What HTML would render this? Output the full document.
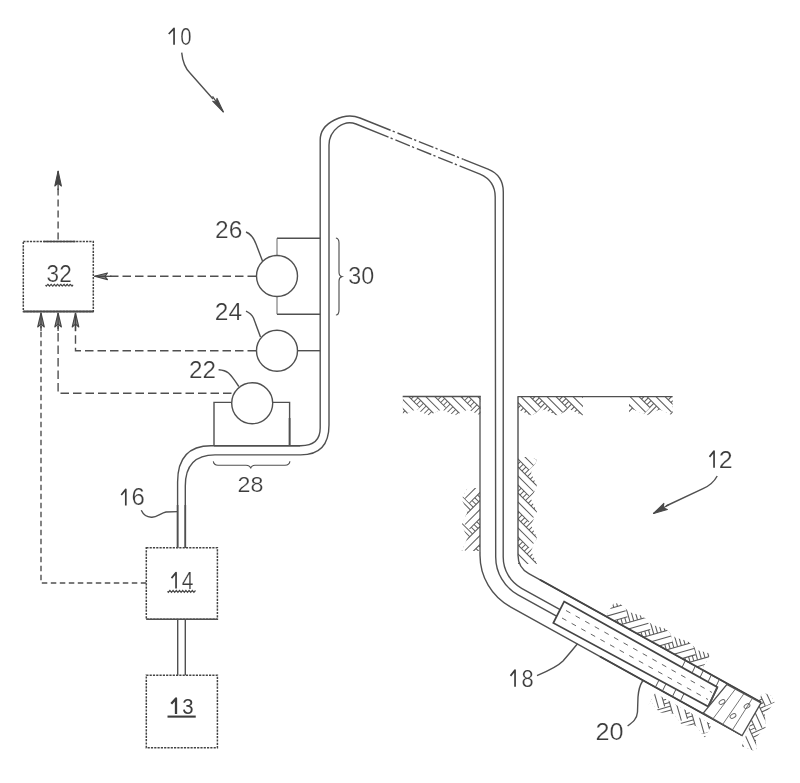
<!DOCTYPE html>
<html><head><meta charset="utf-8"><style>
html,body{margin:0;padding:0;background:#fff;}
svg{display:block;filter:grayscale(1);}
text{font-family:"Liberation Sans",sans-serif;}
</style></head><body>
<svg width="800" height="783" viewBox="0 0 800 783">
<rect width="800" height="783" fill="#fff"/>
<rect x="23.3" y="241.5" width="70" height="69.9" stroke="#444" stroke-width="1.5" fill="none" stroke-dasharray="2.2 1.1"/>
<line x1="23.3" y1="311.4" x2="93.3" y2="311.4" stroke="#4a4a4a" stroke-width="2.0"/>
<line x1="43.5" y1="241.5" x2="75.5" y2="241.5" stroke="#444" stroke-width="1.5"/>
<text transform="translate(46.6,281.76) scale(0.2257,0.2394)" font-size="100" fill="#3c3c3c" stroke="#fff" stroke-width="1.0" opacity="0.995">32</text>
<polyline points="45.5,285.2 46.31,286.1 47.12,285.17 47.93,284.3 48.74,285.26 49.54,286.1 50.35,285.11 51.16,284.31 51.97,285.32 52.78,286.09 53.59,285.04 54.4,284.32 55.21,285.39 56.01,286.08 56.82,284.98 57.63,284.33 58.44,285.45 59.25,286.06 60.06,284.92 60.87,284.35 61.68,285.51 62.49,286.04 63.29,284.87 64.1,284.37 64.91,285.56 65.72,286.02 66.53,284.81 67.34,284.4 68.15,285.62 68.96,285.99 69.76,284.75 70.57,284.43 71.38,285.67 72.19,285.96 73,284.7" fill="none" stroke="#444" stroke-width="1.2"/>
<line x1="58.1" y1="239.5" x2="58.1" y2="183" stroke="#505050" stroke-width="1.4" stroke-dasharray="7 4"/>
<path d="M58.1,171 L61.4,186 L58.1,183 L54.8,186 Z" fill="#444" stroke="#444" stroke-width="1.1" stroke-linejoin="round"/>
<line x1="58.1" y1="171" x2="58.1" y2="190" stroke="#444" stroke-width="1.3"/>
<line x1="256" y1="276.3" x2="106" y2="276.3" stroke="#505050" stroke-width="1.4" stroke-dasharray="8.5 4"/>
<path d="M94.5,276.3 L107.5,273 L104.9,276.3 L107.5,279.6 Z" fill="#8a8a8a" stroke="#444" stroke-width="1.1" stroke-linejoin="round"/>
<line x1="94.5" y1="276.3" x2="111.5" y2="276.3" stroke="#444" stroke-width="1.3"/>
<path d="M256,350.7 L75.5,350.7 L75.5,326" stroke="#505050" stroke-width="1.4" fill="none" stroke-dasharray="8.5 4"/>
<path d="M75.5,313 L78.8,327 L75.5,324.2 L72.2,327 Z" fill="#8a8a8a" stroke="#444" stroke-width="1.1" stroke-linejoin="round"/>
<line x1="75.5" y1="313" x2="75.5" y2="331" stroke="#444" stroke-width="1.3"/>
<path d="M231.5,393.2 L58.1,393.2 L58.1,326" stroke="#505050" stroke-width="1.4" fill="none" stroke-dasharray="8.5 4"/>
<path d="M58.1,313 L61.4,327 L58.1,324.2 L54.8,327 Z" fill="#8a8a8a" stroke="#444" stroke-width="1.1" stroke-linejoin="round"/>
<line x1="58.1" y1="313" x2="58.1" y2="331" stroke="#444" stroke-width="1.3"/>
<path d="M146.3,583 L41,583 L41,326" stroke="#505050" stroke-width="1.4" fill="none" stroke-dasharray="5.5 3.5"/>
<path d="M41,313 L44.3,327 L41,324.2 L37.7,327 Z" fill="#8a8a8a" stroke="#444" stroke-width="1.1" stroke-linejoin="round"/>
<line x1="41" y1="313" x2="41" y2="331" stroke="#444" stroke-width="1.3"/>
<rect x="146.3" y="547.7" width="71.1" height="71.5" stroke="#444" stroke-width="1.5" fill="none" stroke-dasharray="2.2 1.1"/>
<line x1="146.3" y1="619.2" x2="217.4" y2="619.2" stroke="#505050" stroke-width="1.6"/>
<path d="M171.5,578.1 L176.05,572.65 L176.05,588.5" fill="none" stroke="#3c3c3c" stroke-width="1.7" stroke-linejoin="round"/>
<text transform="translate(181.83,588.5) scale(0.2108,0.2321)" font-size="100" fill="#3c3c3c" stroke="#fff" stroke-width="1.0" opacity="0.995">4</text>
<polyline points="167.5,591.4 168.3,592.3 169.1,591.4 169.9,590.5 170.7,591.4 171.5,592.3 172.3,591.4 173.1,590.5 173.9,591.4 174.7,592.3 175.5,591.4 176.3,590.5 177.1,591.4 177.9,592.3 178.7,591.4 179.5,590.5 180.3,591.4 181.1,592.3 181.9,591.4 182.7,590.5 183.5,591.4 184.3,592.3 185.1,591.4 185.9,590.5 186.7,591.4 187.5,592.3 188.3,591.4 189.1,590.5 189.9,591.4 190.7,592.3 191.5,591.4 192.3,590.5 193.1,591.4 193.9,592.3 194.7,591.4 195.5,590.5" fill="none" stroke="#444" stroke-width="1.2"/>
<rect x="146.3" y="675.2" width="71.1" height="72.5" stroke="#444" stroke-width="1.5" fill="none" stroke-dasharray="2.2 1.1"/>
<path d="M171.25,703.76 L176,698.4 L176,714" fill="none" stroke="#3c3c3c" stroke-width="2.3" stroke-linejoin="round"/>
<text transform="translate(182.19,713.77) scale(0.2031,0.2254)" font-size="100" fill="#3c3c3c" opacity="0.995">3</text>
<line x1="167.5" y1="716.6" x2="195.75" y2="716.6" stroke="#3c3c3c" stroke-width="2.1"/>
<line x1="177.7" y1="619" x2="177.7" y2="675.2" stroke="#505050" stroke-width="1.4"/>
<line x1="185.3" y1="619" x2="185.3" y2="675.2" stroke="#505050" stroke-width="1.4"/>
<path d="M177.6,548 L177.6,482 Q177.6,445.7 211,445.7 L300.7,445.7 Q320.2,445.7 320.2,428 L320.2,140 C320.2,122 345,112 360,118 L390.6,130.24" stroke="#505050" stroke-width="1.4" fill="none"/>
<path d="M463.5,159.4 L488,169.2 Q503.3,175.3 503.3,192 L503.2,557.0 A35.8,35.8 0 0 0 521.64,588.31 L566,612.9" stroke="#505050" stroke-width="1.4" fill="none"/>
<path d="M185.3,548 L185.3,486 Q185.3,454.9 215,454.9 L300.7,454.9 Q329,454.9 329,425 L329,145 C329.2,130 344,119.1 356,124 L388.5,137.16" stroke="#505050" stroke-width="1.4" fill="none"/>
<path d="M462,166.9 L480,174.2 Q495.2,180.8 495.2,197 L495.7,557.0 A43.3,43.3 0 0 0 518.01,594.87 L557,616.48" stroke="#505050" stroke-width="1.4" fill="none"/>
<path d="M392.7,131.08 L394.8,131.92 M397.5,133 L412,138.8 M414.1,139.64 L416.2,140.48 M418.9,141.56 L433.4,147.36 M435.5,148.2 L437.6,149.04 M440.3,150.12 L454.8,155.92 M456.9,156.76 L459,157.6 M461.7,158.68 L463.5,159.4" stroke="#505050" stroke-width="1.4" fill="none"/>
<path d="M390.6,138.01 L392.7,138.86 M395.4,139.95 L409.9,145.83 M412,146.68 L414.1,147.53 M416.8,148.62 L431.3,154.49 M433.4,155.34 L435.5,156.2 M438.2,157.29 L452.7,163.16 M454.8,164.01 L456.9,164.86 M459.6,165.96 L462,166.93" stroke="#505050" stroke-width="1.4" fill="none"/>
<line x1="177.6" y1="505" x2="177.6" y2="548" stroke="#505050" stroke-width="1.7"/>
<line x1="185.3" y1="505" x2="185.3" y2="548" stroke="#505050" stroke-width="1.7"/>
<path d="M277,238.3 L320.2,238.3 M320.2,314.2 L277,314.2" stroke="#505050" stroke-width="1.4" fill="none"/>
<path d="M277,255.5 L277,238.3 M277,314.2 L277,296.5" stroke="#666" stroke-width="1.0" fill="none"/>
<circle cx="277" cy="276" r="20.5" stroke="#505050" stroke-width="1.4" fill="#fff"/>
<line x1="298" y1="350.7" x2="320.2" y2="350.7" stroke="#505050" stroke-width="1.4"/>
<circle cx="277" cy="350.7" r="20.5" stroke="#505050" stroke-width="1.4" fill="#fff"/>
<path d="M214,445.7 L214,402.4 L232,402.4 M272.5,402.4 L289.6,402.4 L289.6,445.7" stroke="#505050" stroke-width="1.4" fill="none"/>
<line x1="289.6" y1="418" x2="289.6" y2="445.7" stroke="#505050" stroke-width="1.8"/>
<circle cx="252.2" cy="403.2" r="20.5" stroke="#505050" stroke-width="1.4" fill="#fff"/>
<line x1="214" y1="445.7" x2="300" y2="445.7" stroke="#505050" stroke-width="1.6"/>
<path d="M335.9,238 Q339,238.5 339,243 L339,272 Q339,276 341.8,276.6 Q339,277.5 339,281 L339,310 Q339,315 335.9,315" stroke="#505050" stroke-width="1.15" fill="none"/>
<path d="M213.3,461.3 Q214,465.2 218,465.2 L246,465.2 Q250,465.2 250.7,468.4 Q251.5,465.2 255,465.2 L285,465.2 Q289.5,465.2 289.9,461.3" stroke="#505050" stroke-width="1.15" fill="none"/>
<path d="M168.75,34.03 L174.05,28.4 L174.05,44.75" fill="none" stroke="#3c3c3c" stroke-width="1.7" stroke-linejoin="round"/>
<text transform="translate(180.19,44.51) scale(0.2031,0.2359)" font-size="100" fill="#3c3c3c" stroke="#fff" stroke-width="1.0" opacity="0.995">0</text>
<text transform="translate(215.02,238.26) scale(0.2451,0.2394)" font-size="100" fill="#3c3c3c" stroke="#fff" stroke-width="1.0" opacity="0.995">26</text>
<text transform="translate(214.77,320.25) scale(0.2452,0.2464)" font-size="100" fill="#3c3c3c" stroke="#fff" stroke-width="1.0" opacity="0.995">24</text>
<text transform="translate(189.04,377.75) scale(0.2426,0.2464)" font-size="100" fill="#3c3c3c" stroke="#fff" stroke-width="1.0" opacity="0.995">22</text>
<text transform="translate(237.59,491.77) scale(0.2328,0.2254)" font-size="100" fill="#3c3c3c" stroke="#fff" stroke-width="1.0" opacity="0.995">28</text>
<text transform="translate(348.32,284.26) scale(0.2332,0.2430)" font-size="100" fill="#3c3c3c" stroke="#fff" stroke-width="1.0" opacity="0.995">30</text>
<path d="M121.25,494.94 L125.8,489.4 L125.8,505.5" fill="none" stroke="#3c3c3c" stroke-width="1.7" stroke-linejoin="round"/>
<text transform="translate(131.55,505.27) scale(0.2394,0.2324)" font-size="100" fill="#3c3c3c" stroke="#fff" stroke-width="1.0" opacity="0.995">6</text>
<path d="M709.5,456.87 L714.05,451.15 L714.05,467.75" fill="none" stroke="#3c3c3c" stroke-width="1.7" stroke-linejoin="round"/>
<text transform="translate(718.75,467.75) scale(0.2500,0.2429)" font-size="100" fill="#3c3c3c" stroke="#fff" stroke-width="1.0" opacity="0.995">2</text>
<path d="M510.5,675.87 L515.05,670.15 L515.05,686.75" fill="none" stroke="#3c3c3c" stroke-width="1.7" stroke-linejoin="round"/>
<text transform="translate(521.62,686.51) scale(0.2188,0.2394)" font-size="100" fill="#3c3c3c" stroke="#fff" stroke-width="1.0" opacity="0.995">8</text>
<text transform="translate(595.49,740.01) scale(0.2524,0.2430)" font-size="100" fill="#3c3c3c" stroke="#fff" stroke-width="1.0" opacity="0.995">20</text>
<path d="M246,232 C251,234 254,238.5 256,244 L262.5,261" stroke="#505050" stroke-width="1.4" fill="none"/>
<path d="M246,311.2 C250,313 252,315 253.5,318 L260.5,337" stroke="#505050" stroke-width="1.4" fill="none"/>
<path d="M218.6,369.7 C223,370 226,371 228.5,373 Q232,376 238.8,386.5" stroke="#505050" stroke-width="1.4" fill="none"/>
<path d="M141.25,510.3 C143,514 147,517.5 152,517.2 C157,517 161,513 166,512 L177.6,511.6" stroke="#505050" stroke-width="1.4" fill="none"/>
<path d="M181.7,52.6 Q183,66 190,73 L213,99" stroke="#505050" stroke-width="1.4" fill="none"/>
<path d="M223.4,112 L212.67,101.2 L216.52,102.17 L216.93,98.22 Z" fill="#4a4a4a" stroke="#4a4a4a" stroke-width="1.1" stroke-linejoin="round"/>
<line x1="223.4" y1="112" x2="212.5" y2="96.43" stroke="#4a4a4a" stroke-width="1.3"/>
<path d="M717.2,476 C714,482 709,486 703,488.7 L666,506" stroke="#505050" stroke-width="1.4" fill="none"/>
<path d="M653.5,513.5 L663.85,503.45 L663.19,507.88 L667.37,509.5 Z" fill="#4a4a4a" stroke="#4a4a4a" stroke-width="1.1" stroke-linejoin="round"/>
<line x1="653.5" y1="513.5" x2="669.07" y2="504.47" stroke="#4a4a4a" stroke-width="1.3"/>
<path d="M537,675.6 C548,671 557,667 563,661 Q570,653 577.5,643.8" stroke="#505050" stroke-width="1.4" fill="none"/>
<path d="M627.6,726 C633,722 637,719 637.5,712 L638,697 C638.5,690 640,685 642.6,681" stroke="#505050" stroke-width="1.4" fill="none"/>
<clipPath id="hc1"><polygon points="0,0 78,0 78,19 65,13 52,19 39,13 26,19 13,13 0,19"/></clipPath>
<g transform="matrix(1.0000,0.0000,0.0000,1.0000,402.7,396.5)"><g clip-path="url(#hc1)">
<line x1="-16.5" y1="0" x2="-35.5" y2="19" stroke="#5a5a5a" stroke-width="1.05"/>
<line x1="-11" y1="0" x2="-30" y2="19" stroke="#5a5a5a" stroke-width="1.05"/>
<line x1="-5.5" y1="0" x2="-24.5" y2="19" stroke="#5a5a5a" stroke-width="1.05"/>
<line x1="0" y1="0" x2="-19" y2="19" stroke="#5a5a5a" stroke-width="1.05"/>
<line x1="5.5" y1="0" x2="-13.5" y2="19" stroke="#5a5a5a" stroke-width="1.05"/>
<line x1="11" y1="0" x2="-8" y2="19" stroke="#5a5a5a" stroke-width="1.05"/>
<line x1="16.5" y1="0" x2="-2.5" y2="19" stroke="#5a5a5a" stroke-width="1.05"/>
<line x1="22" y1="0" x2="3" y2="19" stroke="#5a5a5a" stroke-width="1.05"/>
<line x1="27.5" y1="0" x2="8.5" y2="19" stroke="#5a5a5a" stroke-width="1.05"/>
<line x1="33" y1="0" x2="14" y2="19" stroke="#5a5a5a" stroke-width="1.05"/>
<line x1="38.5" y1="0" x2="19.5" y2="19" stroke="#5a5a5a" stroke-width="1.05"/>
<line x1="44" y1="0" x2="25" y2="19" stroke="#5a5a5a" stroke-width="1.05"/>
<line x1="49.5" y1="0" x2="30.5" y2="19" stroke="#5a5a5a" stroke-width="1.05"/>
<line x1="55" y1="0" x2="36" y2="19" stroke="#5a5a5a" stroke-width="1.05"/>
<line x1="60.5" y1="0" x2="41.5" y2="19" stroke="#5a5a5a" stroke-width="1.05"/>
<line x1="66" y1="0" x2="47" y2="19" stroke="#5a5a5a" stroke-width="1.05"/>
<line x1="71.5" y1="0" x2="52.5" y2="19" stroke="#5a5a5a" stroke-width="1.05"/>
<line x1="77" y1="0" x2="58" y2="19" stroke="#5a5a5a" stroke-width="1.05"/>
<line x1="82.5" y1="0" x2="63.5" y2="19" stroke="#5a5a5a" stroke-width="1.05"/>
<line x1="88" y1="0" x2="69" y2="19" stroke="#5a5a5a" stroke-width="1.05"/>
<line x1="93.5" y1="0" x2="74.5" y2="19" stroke="#5a5a5a" stroke-width="1.05"/>
<path d="M-18,20 L-9,11 L-37.28,-17.28 L-46.28,-8.28 Z" fill="#fff" stroke="none"/>
<line x1="-18" y1="20" x2="-46.28" y2="-8.28" stroke="#5a5a5a" stroke-width="1.05"/>
<line x1="-13.5" y1="15.5" x2="-41.78" y2="-12.78" stroke="#5a5a5a" stroke-width="1.05"/>
<line x1="-9" y1="11" x2="-37.28" y2="-17.28" stroke="#5a5a5a" stroke-width="1.05"/>
<path d="M8,20 L17,11 L-11.28,-17.28 L-20.28,-8.28 Z" fill="#fff" stroke="none"/>
<line x1="8" y1="20" x2="-20.28" y2="-8.28" stroke="#5a5a5a" stroke-width="1.05"/>
<line x1="12.5" y1="15.5" x2="-15.78" y2="-12.78" stroke="#5a5a5a" stroke-width="1.05"/>
<line x1="17" y1="11" x2="-11.28" y2="-17.28" stroke="#5a5a5a" stroke-width="1.05"/>
<path d="M34,20 L43,11 L14.72,-17.28 L5.72,-8.28 Z" fill="#fff" stroke="none"/>
<line x1="34" y1="20" x2="5.72" y2="-8.28" stroke="#5a5a5a" stroke-width="1.05"/>
<line x1="38.5" y1="15.5" x2="10.22" y2="-12.78" stroke="#5a5a5a" stroke-width="1.05"/>
<line x1="43" y1="11" x2="14.72" y2="-17.28" stroke="#5a5a5a" stroke-width="1.05"/>
<path d="M60,20 L69,11 L40.72,-17.28 L31.72,-8.28 Z" fill="#fff" stroke="none"/>
<line x1="60" y1="20" x2="31.72" y2="-8.28" stroke="#5a5a5a" stroke-width="1.05"/>
<line x1="64.5" y1="15.5" x2="36.22" y2="-12.78" stroke="#5a5a5a" stroke-width="1.05"/>
<line x1="69" y1="11" x2="40.72" y2="-17.28" stroke="#5a5a5a" stroke-width="1.05"/>
<path d="M86,20 L95,11 L66.72,-17.28 L57.72,-8.28 Z" fill="#fff" stroke="none"/>
<line x1="86" y1="20" x2="57.72" y2="-8.28" stroke="#5a5a5a" stroke-width="1.05"/>
<line x1="90.5" y1="15.5" x2="62.22" y2="-12.78" stroke="#5a5a5a" stroke-width="1.05"/>
<line x1="95" y1="11" x2="66.72" y2="-17.28" stroke="#5a5a5a" stroke-width="1.05"/>
</g></g>
<clipPath id="hc2"><polygon points="0,0 65,0 65,19 52,13 39,19 26,13 13,19 0,13"/></clipPath>
<g transform="matrix(1.0000,0.0000,0.0000,1.0000,518,396.6)"><g clip-path="url(#hc2)">
<line x1="-16" y1="0" x2="-35" y2="19" stroke="#5a5a5a" stroke-width="1.05"/>
<line x1="-10.5" y1="0" x2="-29.5" y2="19" stroke="#5a5a5a" stroke-width="1.05"/>
<line x1="-5" y1="0" x2="-24" y2="19" stroke="#5a5a5a" stroke-width="1.05"/>
<line x1="0.5" y1="0" x2="-18.5" y2="19" stroke="#5a5a5a" stroke-width="1.05"/>
<line x1="6" y1="0" x2="-13" y2="19" stroke="#5a5a5a" stroke-width="1.05"/>
<line x1="11.5" y1="0" x2="-7.5" y2="19" stroke="#5a5a5a" stroke-width="1.05"/>
<line x1="17" y1="0" x2="-2" y2="19" stroke="#5a5a5a" stroke-width="1.05"/>
<line x1="22.5" y1="0" x2="3.5" y2="19" stroke="#5a5a5a" stroke-width="1.05"/>
<line x1="28" y1="0" x2="9" y2="19" stroke="#5a5a5a" stroke-width="1.05"/>
<line x1="33.5" y1="0" x2="14.5" y2="19" stroke="#5a5a5a" stroke-width="1.05"/>
<line x1="39" y1="0" x2="20" y2="19" stroke="#5a5a5a" stroke-width="1.05"/>
<line x1="44.5" y1="0" x2="25.5" y2="19" stroke="#5a5a5a" stroke-width="1.05"/>
<line x1="50" y1="0" x2="31" y2="19" stroke="#5a5a5a" stroke-width="1.05"/>
<line x1="55.5" y1="0" x2="36.5" y2="19" stroke="#5a5a5a" stroke-width="1.05"/>
<line x1="61" y1="0" x2="42" y2="19" stroke="#5a5a5a" stroke-width="1.05"/>
<line x1="66.5" y1="0" x2="47.5" y2="19" stroke="#5a5a5a" stroke-width="1.05"/>
<line x1="72" y1="0" x2="53" y2="19" stroke="#5a5a5a" stroke-width="1.05"/>
<line x1="77.5" y1="0" x2="58.5" y2="19" stroke="#5a5a5a" stroke-width="1.05"/>
<line x1="83" y1="0" x2="64" y2="19" stroke="#5a5a5a" stroke-width="1.05"/>
<path d="M-12,20 L-3,11 L-31.28,-17.28 L-40.28,-8.28 Z" fill="#fff" stroke="none"/>
<line x1="-12" y1="20" x2="-40.28" y2="-8.28" stroke="#5a5a5a" stroke-width="1.05"/>
<line x1="-7.5" y1="15.5" x2="-35.78" y2="-12.78" stroke="#5a5a5a" stroke-width="1.05"/>
<line x1="-3" y1="11" x2="-31.28" y2="-17.28" stroke="#5a5a5a" stroke-width="1.05"/>
<path d="M14,20 L23,11 L-5.28,-17.28 L-14.28,-8.28 Z" fill="#fff" stroke="none"/>
<line x1="14" y1="20" x2="-14.28" y2="-8.28" stroke="#5a5a5a" stroke-width="1.05"/>
<line x1="18.5" y1="15.5" x2="-9.78" y2="-12.78" stroke="#5a5a5a" stroke-width="1.05"/>
<line x1="23" y1="11" x2="-5.28" y2="-17.28" stroke="#5a5a5a" stroke-width="1.05"/>
<path d="M40,20 L49,11 L20.72,-17.28 L11.72,-8.28 Z" fill="#fff" stroke="none"/>
<line x1="40" y1="20" x2="11.72" y2="-8.28" stroke="#5a5a5a" stroke-width="1.05"/>
<line x1="44.5" y1="15.5" x2="16.22" y2="-12.78" stroke="#5a5a5a" stroke-width="1.05"/>
<line x1="49" y1="11" x2="20.72" y2="-17.28" stroke="#5a5a5a" stroke-width="1.05"/>
<path d="M66,20 L75,11 L46.72,-17.28 L37.72,-8.28 Z" fill="#fff" stroke="none"/>
<line x1="66" y1="20" x2="37.72" y2="-8.28" stroke="#5a5a5a" stroke-width="1.05"/>
<line x1="70.5" y1="15.5" x2="42.22" y2="-12.78" stroke="#5a5a5a" stroke-width="1.05"/>
<line x1="75" y1="11" x2="46.72" y2="-17.28" stroke="#5a5a5a" stroke-width="1.05"/>
</g></g>
<clipPath id="hc3"><polygon points="0,0 43.6,0 43.6,19 30.6,13 17.6,19 4.6,13 0,19"/></clipPath>
<g transform="matrix(1.0000,0.0000,0.0000,1.0000,629,396.6)"><g clip-path="url(#hc3)">
<line x1="-18" y1="0" x2="-37" y2="19" stroke="#5a5a5a" stroke-width="1.05"/>
<line x1="-12.5" y1="0" x2="-31.5" y2="19" stroke="#5a5a5a" stroke-width="1.05"/>
<line x1="-7" y1="0" x2="-26" y2="19" stroke="#5a5a5a" stroke-width="1.05"/>
<line x1="-1.5" y1="0" x2="-20.5" y2="19" stroke="#5a5a5a" stroke-width="1.05"/>
<line x1="4" y1="0" x2="-15" y2="19" stroke="#5a5a5a" stroke-width="1.05"/>
<line x1="9.5" y1="0" x2="-9.5" y2="19" stroke="#5a5a5a" stroke-width="1.05"/>
<line x1="15" y1="0" x2="-4" y2="19" stroke="#5a5a5a" stroke-width="1.05"/>
<line x1="20.5" y1="0" x2="1.5" y2="19" stroke="#5a5a5a" stroke-width="1.05"/>
<line x1="26" y1="0" x2="7" y2="19" stroke="#5a5a5a" stroke-width="1.05"/>
<line x1="31.5" y1="0" x2="12.5" y2="19" stroke="#5a5a5a" stroke-width="1.05"/>
<line x1="37" y1="0" x2="18" y2="19" stroke="#5a5a5a" stroke-width="1.05"/>
<line x1="42.5" y1="0" x2="23.5" y2="19" stroke="#5a5a5a" stroke-width="1.05"/>
<line x1="48" y1="0" x2="29" y2="19" stroke="#5a5a5a" stroke-width="1.05"/>
<line x1="53.5" y1="0" x2="34.5" y2="19" stroke="#5a5a5a" stroke-width="1.05"/>
<line x1="59" y1="0" x2="40" y2="19" stroke="#5a5a5a" stroke-width="1.05"/>
<path d="M-14,20 L-5,11 L-33.28,-17.28 L-42.28,-8.28 Z" fill="#fff" stroke="none"/>
<line x1="-14" y1="20" x2="-42.28" y2="-8.28" stroke="#5a5a5a" stroke-width="1.05"/>
<line x1="-9.5" y1="15.5" x2="-37.78" y2="-12.78" stroke="#5a5a5a" stroke-width="1.05"/>
<line x1="-5" y1="11" x2="-33.28" y2="-17.28" stroke="#5a5a5a" stroke-width="1.05"/>
<path d="M12,20 L21,11 L-7.28,-17.28 L-16.28,-8.28 Z" fill="#fff" stroke="none"/>
<line x1="12" y1="20" x2="-16.28" y2="-8.28" stroke="#5a5a5a" stroke-width="1.05"/>
<line x1="16.5" y1="15.5" x2="-11.78" y2="-12.78" stroke="#5a5a5a" stroke-width="1.05"/>
<line x1="21" y1="11" x2="-7.28" y2="-17.28" stroke="#5a5a5a" stroke-width="1.05"/>
<path d="M38,20 L47,11 L18.72,-17.28 L9.72,-8.28 Z" fill="#fff" stroke="none"/>
<line x1="38" y1="20" x2="9.72" y2="-8.28" stroke="#5a5a5a" stroke-width="1.05"/>
<line x1="42.5" y1="15.5" x2="14.22" y2="-12.78" stroke="#5a5a5a" stroke-width="1.05"/>
<line x1="47" y1="11" x2="18.72" y2="-17.28" stroke="#5a5a5a" stroke-width="1.05"/>
<path d="M64,20 L73,11 L44.72,-17.28 L35.72,-8.28 Z" fill="#fff" stroke="none"/>
<line x1="64" y1="20" x2="35.72" y2="-8.28" stroke="#5a5a5a" stroke-width="1.05"/>
<line x1="68.5" y1="15.5" x2="40.22" y2="-12.78" stroke="#5a5a5a" stroke-width="1.05"/>
<line x1="73" y1="11" x2="44.72" y2="-17.28" stroke="#5a5a5a" stroke-width="1.05"/>
</g></g>
<clipPath id="hc4"><polygon points="0,0 63,0 63,18.5 50,12.5 37,18.5 24,12.5 11,18.5 0,12.5"/></clipPath>
<g transform="matrix(0.0000,1.0000,-1.0000,0.0000,480,488)"><g clip-path="url(#hc4)">
<line x1="-18" y1="0" x2="-36.5" y2="18.5" stroke="#5a5a5a" stroke-width="1.05"/>
<line x1="-12.5" y1="0" x2="-31" y2="18.5" stroke="#5a5a5a" stroke-width="1.05"/>
<line x1="-7" y1="0" x2="-25.5" y2="18.5" stroke="#5a5a5a" stroke-width="1.05"/>
<line x1="-1.5" y1="0" x2="-20" y2="18.5" stroke="#5a5a5a" stroke-width="1.05"/>
<line x1="4" y1="0" x2="-14.5" y2="18.5" stroke="#5a5a5a" stroke-width="1.05"/>
<line x1="9.5" y1="0" x2="-9" y2="18.5" stroke="#5a5a5a" stroke-width="1.05"/>
<line x1="15" y1="0" x2="-3.5" y2="18.5" stroke="#5a5a5a" stroke-width="1.05"/>
<line x1="20.5" y1="0" x2="2" y2="18.5" stroke="#5a5a5a" stroke-width="1.05"/>
<line x1="26" y1="0" x2="7.5" y2="18.5" stroke="#5a5a5a" stroke-width="1.05"/>
<line x1="31.5" y1="0" x2="13" y2="18.5" stroke="#5a5a5a" stroke-width="1.05"/>
<line x1="37" y1="0" x2="18.5" y2="18.5" stroke="#5a5a5a" stroke-width="1.05"/>
<line x1="42.5" y1="0" x2="24" y2="18.5" stroke="#5a5a5a" stroke-width="1.05"/>
<line x1="48" y1="0" x2="29.5" y2="18.5" stroke="#5a5a5a" stroke-width="1.05"/>
<line x1="53.5" y1="0" x2="35" y2="18.5" stroke="#5a5a5a" stroke-width="1.05"/>
<line x1="59" y1="0" x2="40.5" y2="18.5" stroke="#5a5a5a" stroke-width="1.05"/>
<line x1="64.5" y1="0" x2="46" y2="18.5" stroke="#5a5a5a" stroke-width="1.05"/>
<line x1="70" y1="0" x2="51.5" y2="18.5" stroke="#5a5a5a" stroke-width="1.05"/>
<line x1="75.5" y1="0" x2="57" y2="18.5" stroke="#5a5a5a" stroke-width="1.05"/>
<line x1="81" y1="0" x2="62.5" y2="18.5" stroke="#5a5a5a" stroke-width="1.05"/>
<path d="M-20,19.5 L-11,10.5 L-39.28,-17.78 L-48.28,-8.78 Z" fill="#fff" stroke="none"/>
<line x1="-20" y1="19.5" x2="-48.28" y2="-8.78" stroke="#5a5a5a" stroke-width="1.05"/>
<line x1="-15.5" y1="15" x2="-43.78" y2="-13.28" stroke="#5a5a5a" stroke-width="1.05"/>
<line x1="-11" y1="10.5" x2="-39.28" y2="-17.78" stroke="#5a5a5a" stroke-width="1.05"/>
<path d="M6,19.5 L15,10.5 L-13.28,-17.78 L-22.28,-8.78 Z" fill="#fff" stroke="none"/>
<line x1="6" y1="19.5" x2="-22.28" y2="-8.78" stroke="#5a5a5a" stroke-width="1.05"/>
<line x1="10.5" y1="15" x2="-17.78" y2="-13.28" stroke="#5a5a5a" stroke-width="1.05"/>
<line x1="15" y1="10.5" x2="-13.28" y2="-17.78" stroke="#5a5a5a" stroke-width="1.05"/>
<path d="M32,19.5 L41,10.5 L12.72,-17.78 L3.72,-8.78 Z" fill="#fff" stroke="none"/>
<line x1="32" y1="19.5" x2="3.72" y2="-8.78" stroke="#5a5a5a" stroke-width="1.05"/>
<line x1="36.5" y1="15" x2="8.22" y2="-13.28" stroke="#5a5a5a" stroke-width="1.05"/>
<line x1="41" y1="10.5" x2="12.72" y2="-17.78" stroke="#5a5a5a" stroke-width="1.05"/>
<path d="M58,19.5 L67,10.5 L38.72,-17.78 L29.72,-8.78 Z" fill="#fff" stroke="none"/>
<line x1="58" y1="19.5" x2="29.72" y2="-8.78" stroke="#5a5a5a" stroke-width="1.05"/>
<line x1="62.5" y1="15" x2="34.22" y2="-13.28" stroke="#5a5a5a" stroke-width="1.05"/>
<line x1="67" y1="10.5" x2="38.72" y2="-17.78" stroke="#5a5a5a" stroke-width="1.05"/>
<path d="M84,19.5 L93,10.5 L64.72,-17.78 L55.72,-8.78 Z" fill="#fff" stroke="none"/>
<line x1="84" y1="19.5" x2="55.72" y2="-8.78" stroke="#5a5a5a" stroke-width="1.05"/>
<line x1="88.5" y1="15" x2="60.22" y2="-13.28" stroke="#5a5a5a" stroke-width="1.05"/>
<line x1="93" y1="10.5" x2="64.72" y2="-17.78" stroke="#5a5a5a" stroke-width="1.05"/>
</g></g>
<clipPath id="hc5"><polygon points="0,0 107,0 107,19 94,13 81,19 68,13 55,19 42,13 29,19 16,13 3,19 0,13"/></clipPath>
<g transform="matrix(0.0000,1.0000,1.0000,0.0000,518,457)"><g clip-path="url(#hc5)">
<line x1="-15" y1="0" x2="-34" y2="19" stroke="#5a5a5a" stroke-width="1.05"/>
<line x1="-9.5" y1="0" x2="-28.5" y2="19" stroke="#5a5a5a" stroke-width="1.05"/>
<line x1="-4" y1="0" x2="-23" y2="19" stroke="#5a5a5a" stroke-width="1.05"/>
<line x1="1.5" y1="0" x2="-17.5" y2="19" stroke="#5a5a5a" stroke-width="1.05"/>
<line x1="7" y1="0" x2="-12" y2="19" stroke="#5a5a5a" stroke-width="1.05"/>
<line x1="12.5" y1="0" x2="-6.5" y2="19" stroke="#5a5a5a" stroke-width="1.05"/>
<line x1="18" y1="0" x2="-1" y2="19" stroke="#5a5a5a" stroke-width="1.05"/>
<line x1="23.5" y1="0" x2="4.5" y2="19" stroke="#5a5a5a" stroke-width="1.05"/>
<line x1="29" y1="0" x2="10" y2="19" stroke="#5a5a5a" stroke-width="1.05"/>
<line x1="34.5" y1="0" x2="15.5" y2="19" stroke="#5a5a5a" stroke-width="1.05"/>
<line x1="40" y1="0" x2="21" y2="19" stroke="#5a5a5a" stroke-width="1.05"/>
<line x1="45.5" y1="0" x2="26.5" y2="19" stroke="#5a5a5a" stroke-width="1.05"/>
<line x1="51" y1="0" x2="32" y2="19" stroke="#5a5a5a" stroke-width="1.05"/>
<line x1="56.5" y1="0" x2="37.5" y2="19" stroke="#5a5a5a" stroke-width="1.05"/>
<line x1="62" y1="0" x2="43" y2="19" stroke="#5a5a5a" stroke-width="1.05"/>
<line x1="67.5" y1="0" x2="48.5" y2="19" stroke="#5a5a5a" stroke-width="1.05"/>
<line x1="73" y1="0" x2="54" y2="19" stroke="#5a5a5a" stroke-width="1.05"/>
<line x1="78.5" y1="0" x2="59.5" y2="19" stroke="#5a5a5a" stroke-width="1.05"/>
<line x1="84" y1="0" x2="65" y2="19" stroke="#5a5a5a" stroke-width="1.05"/>
<line x1="89.5" y1="0" x2="70.5" y2="19" stroke="#5a5a5a" stroke-width="1.05"/>
<line x1="95" y1="0" x2="76" y2="19" stroke="#5a5a5a" stroke-width="1.05"/>
<line x1="100.5" y1="0" x2="81.5" y2="19" stroke="#5a5a5a" stroke-width="1.05"/>
<line x1="106" y1="0" x2="87" y2="19" stroke="#5a5a5a" stroke-width="1.05"/>
<line x1="111.5" y1="0" x2="92.5" y2="19" stroke="#5a5a5a" stroke-width="1.05"/>
<line x1="117" y1="0" x2="98" y2="19" stroke="#5a5a5a" stroke-width="1.05"/>
<line x1="122.5" y1="0" x2="103.5" y2="19" stroke="#5a5a5a" stroke-width="1.05"/>
<path d="M-22,20 L-13,11 L-41.28,-17.28 L-50.28,-8.28 Z" fill="#fff" stroke="none"/>
<line x1="-22" y1="20" x2="-50.28" y2="-8.28" stroke="#5a5a5a" stroke-width="1.05"/>
<line x1="-17.5" y1="15.5" x2="-45.78" y2="-12.78" stroke="#5a5a5a" stroke-width="1.05"/>
<line x1="-13" y1="11" x2="-41.28" y2="-17.28" stroke="#5a5a5a" stroke-width="1.05"/>
<path d="M4,20 L13,11 L-15.28,-17.28 L-24.28,-8.28 Z" fill="#fff" stroke="none"/>
<line x1="4" y1="20" x2="-24.28" y2="-8.28" stroke="#5a5a5a" stroke-width="1.05"/>
<line x1="8.5" y1="15.5" x2="-19.78" y2="-12.78" stroke="#5a5a5a" stroke-width="1.05"/>
<line x1="13" y1="11" x2="-15.28" y2="-17.28" stroke="#5a5a5a" stroke-width="1.05"/>
<path d="M30,20 L39,11 L10.72,-17.28 L1.72,-8.28 Z" fill="#fff" stroke="none"/>
<line x1="30" y1="20" x2="1.72" y2="-8.28" stroke="#5a5a5a" stroke-width="1.05"/>
<line x1="34.5" y1="15.5" x2="6.22" y2="-12.78" stroke="#5a5a5a" stroke-width="1.05"/>
<line x1="39" y1="11" x2="10.72" y2="-17.28" stroke="#5a5a5a" stroke-width="1.05"/>
<path d="M56,20 L65,11 L36.72,-17.28 L27.72,-8.28 Z" fill="#fff" stroke="none"/>
<line x1="56" y1="20" x2="27.72" y2="-8.28" stroke="#5a5a5a" stroke-width="1.05"/>
<line x1="60.5" y1="15.5" x2="32.22" y2="-12.78" stroke="#5a5a5a" stroke-width="1.05"/>
<line x1="65" y1="11" x2="36.72" y2="-17.28" stroke="#5a5a5a" stroke-width="1.05"/>
<path d="M82,20 L91,11 L62.72,-17.28 L53.72,-8.28 Z" fill="#fff" stroke="none"/>
<line x1="82" y1="20" x2="53.72" y2="-8.28" stroke="#5a5a5a" stroke-width="1.05"/>
<line x1="86.5" y1="15.5" x2="58.22" y2="-12.78" stroke="#5a5a5a" stroke-width="1.05"/>
<line x1="91" y1="11" x2="62.72" y2="-17.28" stroke="#5a5a5a" stroke-width="1.05"/>
<path d="M108,20 L117,11 L88.72,-17.28 L79.72,-8.28 Z" fill="#fff" stroke="none"/>
<line x1="108" y1="20" x2="79.72" y2="-8.28" stroke="#5a5a5a" stroke-width="1.05"/>
<line x1="112.5" y1="15.5" x2="84.22" y2="-12.78" stroke="#5a5a5a" stroke-width="1.05"/>
<line x1="117" y1="11" x2="88.72" y2="-17.28" stroke="#5a5a5a" stroke-width="1.05"/>
</g></g>
<line x1="402.7" y1="396.5" x2="480.8" y2="396.5" stroke="#505050" stroke-width="1.4"/>
<line x1="517.6" y1="396.6" x2="672.6" y2="396.6" stroke="#505050" stroke-width="1.4"/>
<line x1="480" y1="396.5" x2="480" y2="552" stroke="#505050" stroke-width="1.3"/>
<line x1="518" y1="396.6" x2="518" y2="552" stroke="#505050" stroke-width="1.4"/>
<path d="M480,552 L480,555.2 A59,59 0 0 0 510.4,606.8 L740,734.07" stroke="#505050" stroke-width="1.4" fill="none"/>
<path d="M518,552 L518,555.2 A21,21 0 0 0 528.82,573.57 L761,702.27" stroke="#505050" stroke-width="1.4" fill="none"/>
<clipPath id="hc6"><polygon points="0,0 109.76,0 109.76,18 96.76,15 83.76,18 70.76,15 57.76,18 44.76,15 31.76,18 18.76,15 5.76,18 0,15"/></clipPath>
<g transform="matrix(0.8746,0.4848,0.4848,-0.8746,606,616.35)"><g clip-path="url(#hc6)">
<line x1="-13.5" y1="0" x2="-31.5" y2="18" stroke="#5a5a5a" stroke-width="1.05"/>
<line x1="-8" y1="0" x2="-26" y2="18" stroke="#5a5a5a" stroke-width="1.05"/>
<line x1="-2.5" y1="0" x2="-20.5" y2="18" stroke="#5a5a5a" stroke-width="1.05"/>
<line x1="3" y1="0" x2="-15" y2="18" stroke="#5a5a5a" stroke-width="1.05"/>
<line x1="8.5" y1="0" x2="-9.5" y2="18" stroke="#5a5a5a" stroke-width="1.05"/>
<line x1="14" y1="0" x2="-4" y2="18" stroke="#5a5a5a" stroke-width="1.05"/>
<line x1="19.5" y1="0" x2="1.5" y2="18" stroke="#5a5a5a" stroke-width="1.05"/>
<line x1="25" y1="0" x2="7" y2="18" stroke="#5a5a5a" stroke-width="1.05"/>
<line x1="30.5" y1="0" x2="12.5" y2="18" stroke="#5a5a5a" stroke-width="1.05"/>
<line x1="36" y1="0" x2="18" y2="18" stroke="#5a5a5a" stroke-width="1.05"/>
<line x1="41.5" y1="0" x2="23.5" y2="18" stroke="#5a5a5a" stroke-width="1.05"/>
<line x1="47" y1="0" x2="29" y2="18" stroke="#5a5a5a" stroke-width="1.05"/>
<line x1="52.5" y1="0" x2="34.5" y2="18" stroke="#5a5a5a" stroke-width="1.05"/>
<line x1="58" y1="0" x2="40" y2="18" stroke="#5a5a5a" stroke-width="1.05"/>
<line x1="63.5" y1="0" x2="45.5" y2="18" stroke="#5a5a5a" stroke-width="1.05"/>
<line x1="69" y1="0" x2="51" y2="18" stroke="#5a5a5a" stroke-width="1.05"/>
<line x1="74.5" y1="0" x2="56.5" y2="18" stroke="#5a5a5a" stroke-width="1.05"/>
<line x1="80" y1="0" x2="62" y2="18" stroke="#5a5a5a" stroke-width="1.05"/>
<line x1="85.5" y1="0" x2="67.5" y2="18" stroke="#5a5a5a" stroke-width="1.05"/>
<line x1="91" y1="0" x2="73" y2="18" stroke="#5a5a5a" stroke-width="1.05"/>
<line x1="96.5" y1="0" x2="78.5" y2="18" stroke="#5a5a5a" stroke-width="1.05"/>
<line x1="102" y1="0" x2="84" y2="18" stroke="#5a5a5a" stroke-width="1.05"/>
<line x1="107.5" y1="0" x2="89.5" y2="18" stroke="#5a5a5a" stroke-width="1.05"/>
<line x1="113" y1="0" x2="95" y2="18" stroke="#5a5a5a" stroke-width="1.05"/>
<line x1="118.5" y1="0" x2="100.5" y2="18" stroke="#5a5a5a" stroke-width="1.05"/>
<line x1="124" y1="0" x2="106" y2="18" stroke="#5a5a5a" stroke-width="1.05"/>
<path d="M-16,19 L-7,10 L-35.28,-18.28 L-44.28,-9.28 Z" fill="#fff" stroke="none"/>
<line x1="-16" y1="19" x2="-44.28" y2="-9.28" stroke="#5a5a5a" stroke-width="1.05"/>
<line x1="-11.5" y1="14.5" x2="-39.78" y2="-13.78" stroke="#5a5a5a" stroke-width="1.05"/>
<line x1="-7" y1="10" x2="-35.28" y2="-18.28" stroke="#5a5a5a" stroke-width="1.05"/>
<path d="M10,19 L19,10 L-9.28,-18.28 L-18.28,-9.28 Z" fill="#fff" stroke="none"/>
<line x1="10" y1="19" x2="-18.28" y2="-9.28" stroke="#5a5a5a" stroke-width="1.05"/>
<line x1="14.5" y1="14.5" x2="-13.78" y2="-13.78" stroke="#5a5a5a" stroke-width="1.05"/>
<line x1="19" y1="10" x2="-9.28" y2="-18.28" stroke="#5a5a5a" stroke-width="1.05"/>
<path d="M36,19 L45,10 L16.72,-18.28 L7.72,-9.28 Z" fill="#fff" stroke="none"/>
<line x1="36" y1="19" x2="7.72" y2="-9.28" stroke="#5a5a5a" stroke-width="1.05"/>
<line x1="40.5" y1="14.5" x2="12.22" y2="-13.78" stroke="#5a5a5a" stroke-width="1.05"/>
<line x1="45" y1="10" x2="16.72" y2="-18.28" stroke="#5a5a5a" stroke-width="1.05"/>
<path d="M62,19 L71,10 L42.72,-18.28 L33.72,-9.28 Z" fill="#fff" stroke="none"/>
<line x1="62" y1="19" x2="33.72" y2="-9.28" stroke="#5a5a5a" stroke-width="1.05"/>
<line x1="66.5" y1="14.5" x2="38.22" y2="-13.78" stroke="#5a5a5a" stroke-width="1.05"/>
<line x1="71" y1="10" x2="42.72" y2="-18.28" stroke="#5a5a5a" stroke-width="1.05"/>
<path d="M88,19 L97,10 L68.72,-18.28 L59.72,-9.28 Z" fill="#fff" stroke="none"/>
<line x1="88" y1="19" x2="59.72" y2="-9.28" stroke="#5a5a5a" stroke-width="1.05"/>
<line x1="92.5" y1="14.5" x2="64.22" y2="-13.78" stroke="#5a5a5a" stroke-width="1.05"/>
<line x1="97" y1="10" x2="68.72" y2="-18.28" stroke="#5a5a5a" stroke-width="1.05"/>
<path d="M114,19 L123,10 L94.72,-18.28 L85.72,-9.28 Z" fill="#fff" stroke="none"/>
<line x1="114" y1="19" x2="85.72" y2="-9.28" stroke="#5a5a5a" stroke-width="1.05"/>
<line x1="118.5" y1="14.5" x2="90.22" y2="-13.78" stroke="#5a5a5a" stroke-width="1.05"/>
<line x1="123" y1="10" x2="94.72" y2="-18.28" stroke="#5a5a5a" stroke-width="1.05"/>
</g></g>
<clipPath id="hc7"><polygon points="0,0 65.17,0 65.17,15 52.17,9 39.17,15 26.17,9 13.17,15 0.17,9 0,15"/></clipPath>
<g transform="matrix(0.8746,0.4848,-0.4848,0.8746,655,692.96)"><g clip-path="url(#hc7)">
<line x1="-14.5" y1="0" x2="-29.5" y2="15" stroke="#5a5a5a" stroke-width="1.05"/>
<line x1="-9" y1="0" x2="-24" y2="15" stroke="#5a5a5a" stroke-width="1.05"/>
<line x1="-3.5" y1="0" x2="-18.5" y2="15" stroke="#5a5a5a" stroke-width="1.05"/>
<line x1="2" y1="0" x2="-13" y2="15" stroke="#5a5a5a" stroke-width="1.05"/>
<line x1="7.5" y1="0" x2="-7.5" y2="15" stroke="#5a5a5a" stroke-width="1.05"/>
<line x1="13" y1="0" x2="-2" y2="15" stroke="#5a5a5a" stroke-width="1.05"/>
<line x1="18.5" y1="0" x2="3.5" y2="15" stroke="#5a5a5a" stroke-width="1.05"/>
<line x1="24" y1="0" x2="9" y2="15" stroke="#5a5a5a" stroke-width="1.05"/>
<line x1="29.5" y1="0" x2="14.5" y2="15" stroke="#5a5a5a" stroke-width="1.05"/>
<line x1="35" y1="0" x2="20" y2="15" stroke="#5a5a5a" stroke-width="1.05"/>
<line x1="40.5" y1="0" x2="25.5" y2="15" stroke="#5a5a5a" stroke-width="1.05"/>
<line x1="46" y1="0" x2="31" y2="15" stroke="#5a5a5a" stroke-width="1.05"/>
<line x1="51.5" y1="0" x2="36.5" y2="15" stroke="#5a5a5a" stroke-width="1.05"/>
<line x1="57" y1="0" x2="42" y2="15" stroke="#5a5a5a" stroke-width="1.05"/>
<line x1="62.5" y1="0" x2="47.5" y2="15" stroke="#5a5a5a" stroke-width="1.05"/>
<line x1="68" y1="0" x2="53" y2="15" stroke="#5a5a5a" stroke-width="1.05"/>
<line x1="73.5" y1="0" x2="58.5" y2="15" stroke="#5a5a5a" stroke-width="1.05"/>
<line x1="79" y1="0" x2="64" y2="15" stroke="#5a5a5a" stroke-width="1.05"/>
<path d="M-20,16 L-11,7 L-39.28,-21.28 L-48.28,-12.28 Z" fill="#fff" stroke="none"/>
<line x1="-20" y1="16" x2="-48.28" y2="-12.28" stroke="#5a5a5a" stroke-width="1.05"/>
<line x1="-15.5" y1="11.5" x2="-43.78" y2="-16.78" stroke="#5a5a5a" stroke-width="1.05"/>
<line x1="-11" y1="7" x2="-39.28" y2="-21.28" stroke="#5a5a5a" stroke-width="1.05"/>
<path d="M6,16 L15,7 L-13.28,-21.28 L-22.28,-12.28 Z" fill="#fff" stroke="none"/>
<line x1="6" y1="16" x2="-22.28" y2="-12.28" stroke="#5a5a5a" stroke-width="1.05"/>
<line x1="10.5" y1="11.5" x2="-17.78" y2="-16.78" stroke="#5a5a5a" stroke-width="1.05"/>
<line x1="15" y1="7" x2="-13.28" y2="-21.28" stroke="#5a5a5a" stroke-width="1.05"/>
<path d="M32,16 L41,7 L12.72,-21.28 L3.72,-12.28 Z" fill="#fff" stroke="none"/>
<line x1="32" y1="16" x2="3.72" y2="-12.28" stroke="#5a5a5a" stroke-width="1.05"/>
<line x1="36.5" y1="11.5" x2="8.22" y2="-16.78" stroke="#5a5a5a" stroke-width="1.05"/>
<line x1="41" y1="7" x2="12.72" y2="-21.28" stroke="#5a5a5a" stroke-width="1.05"/>
<path d="M58,16 L67,7 L38.72,-21.28 L29.72,-12.28 Z" fill="#fff" stroke="none"/>
<line x1="58" y1="16" x2="29.72" y2="-12.28" stroke="#5a5a5a" stroke-width="1.05"/>
<line x1="62.5" y1="11.5" x2="34.22" y2="-16.78" stroke="#5a5a5a" stroke-width="1.05"/>
<line x1="67" y1="7" x2="38.72" y2="-21.28" stroke="#5a5a5a" stroke-width="1.05"/>
<path d="M84,16 L93,7 L64.72,-21.28 L55.72,-12.28 Z" fill="#fff" stroke="none"/>
<line x1="84" y1="16" x2="55.72" y2="-12.28" stroke="#5a5a5a" stroke-width="1.05"/>
<line x1="88.5" y1="11.5" x2="60.22" y2="-16.78" stroke="#5a5a5a" stroke-width="1.05"/>
<line x1="93" y1="7" x2="64.72" y2="-21.28" stroke="#5a5a5a" stroke-width="1.05"/>
</g></g>
<clipPath id="hc8"><polygon points="0,0 58,0 58,16 45,10 32,16 19,10 6,16 0,10"/></clipPath>
<g transform="matrix(-0.3500,0.9370,0.9370,0.3500,762,692)"><g clip-path="url(#hc8)">
<line x1="-13" y1="0" x2="-29" y2="16" stroke="#5a5a5a" stroke-width="1.05"/>
<line x1="-7.5" y1="0" x2="-23.5" y2="16" stroke="#5a5a5a" stroke-width="1.05"/>
<line x1="-2" y1="0" x2="-18" y2="16" stroke="#5a5a5a" stroke-width="1.05"/>
<line x1="3.5" y1="0" x2="-12.5" y2="16" stroke="#5a5a5a" stroke-width="1.05"/>
<line x1="9" y1="0" x2="-7" y2="16" stroke="#5a5a5a" stroke-width="1.05"/>
<line x1="14.5" y1="0" x2="-1.5" y2="16" stroke="#5a5a5a" stroke-width="1.05"/>
<line x1="20" y1="0" x2="4" y2="16" stroke="#5a5a5a" stroke-width="1.05"/>
<line x1="25.5" y1="0" x2="9.5" y2="16" stroke="#5a5a5a" stroke-width="1.05"/>
<line x1="31" y1="0" x2="15" y2="16" stroke="#5a5a5a" stroke-width="1.05"/>
<line x1="36.5" y1="0" x2="20.5" y2="16" stroke="#5a5a5a" stroke-width="1.05"/>
<line x1="42" y1="0" x2="26" y2="16" stroke="#5a5a5a" stroke-width="1.05"/>
<line x1="47.5" y1="0" x2="31.5" y2="16" stroke="#5a5a5a" stroke-width="1.05"/>
<line x1="53" y1="0" x2="37" y2="16" stroke="#5a5a5a" stroke-width="1.05"/>
<line x1="58.5" y1="0" x2="42.5" y2="16" stroke="#5a5a5a" stroke-width="1.05"/>
<line x1="64" y1="0" x2="48" y2="16" stroke="#5a5a5a" stroke-width="1.05"/>
<line x1="69.5" y1="0" x2="53.5" y2="16" stroke="#5a5a5a" stroke-width="1.05"/>
<path d="M-23,17 L-14,8 L-42.28,-20.28 L-51.28,-11.28 Z" fill="#fff" stroke="none"/>
<line x1="-23" y1="17" x2="-51.28" y2="-11.28" stroke="#5a5a5a" stroke-width="1.05"/>
<line x1="-18.5" y1="12.5" x2="-46.78" y2="-15.78" stroke="#5a5a5a" stroke-width="1.05"/>
<line x1="-14" y1="8" x2="-42.28" y2="-20.28" stroke="#5a5a5a" stroke-width="1.05"/>
<path d="M3,17 L12,8 L-16.28,-20.28 L-25.28,-11.28 Z" fill="#fff" stroke="none"/>
<line x1="3" y1="17" x2="-25.28" y2="-11.28" stroke="#5a5a5a" stroke-width="1.05"/>
<line x1="7.5" y1="12.5" x2="-20.78" y2="-15.78" stroke="#5a5a5a" stroke-width="1.05"/>
<line x1="12" y1="8" x2="-16.28" y2="-20.28" stroke="#5a5a5a" stroke-width="1.05"/>
<path d="M29,17 L38,8 L9.72,-20.28 L0.72,-11.28 Z" fill="#fff" stroke="none"/>
<line x1="29" y1="17" x2="0.72" y2="-11.28" stroke="#5a5a5a" stroke-width="1.05"/>
<line x1="33.5" y1="12.5" x2="5.22" y2="-15.78" stroke="#5a5a5a" stroke-width="1.05"/>
<line x1="38" y1="8" x2="9.72" y2="-20.28" stroke="#5a5a5a" stroke-width="1.05"/>
<path d="M55,17 L64,8 L35.72,-20.28 L26.72,-11.28 Z" fill="#fff" stroke="none"/>
<line x1="55" y1="17" x2="26.72" y2="-11.28" stroke="#5a5a5a" stroke-width="1.05"/>
<line x1="59.5" y1="12.5" x2="31.22" y2="-15.78" stroke="#5a5a5a" stroke-width="1.05"/>
<line x1="64" y1="8" x2="35.72" y2="-20.28" stroke="#5a5a5a" stroke-width="1.05"/>
<path d="M81,17 L90,8 L61.72,-20.28 L52.72,-11.28 Z" fill="#fff" stroke="none"/>
<line x1="81" y1="17" x2="52.72" y2="-11.28" stroke="#5a5a5a" stroke-width="1.05"/>
<line x1="85.5" y1="12.5" x2="57.22" y2="-15.78" stroke="#5a5a5a" stroke-width="1.05"/>
<line x1="90" y1="8" x2="61.72" y2="-20.28" stroke="#5a5a5a" stroke-width="1.05"/>
</g></g>
<line x1="540" y1="579.76" x2="761" y2="702.27" stroke="#444" stroke-width="1.9"/>
<line x1="600" y1="656.47" x2="742" y2="735.18" stroke="#444" stroke-width="1.8"/>
<path d="M564.1,601.6 L717.4,687.2 L708.2,706.6 L553.3,623 Z" stroke="#444" stroke-width="1.7" fill="#fff"/>
<line x1="717.4" y1="687.2" x2="708.2" y2="706.6" stroke="#505050" stroke-width="1.8"/>
<line x1="566" y1="610.5" x2="712" y2="692.5" stroke="#666" stroke-width="1.0" stroke-dasharray="5 6"/>
<line x1="562" y1="618" x2="708" y2="699.5" stroke="#666" stroke-width="1.0" stroke-dasharray="5 6"/>
<line x1="682" y1="667.43" x2="685.4" y2="660.36" stroke="#555" stroke-width="1.0"/>
<line x1="692" y1="673.02" x2="695.4" y2="665.9" stroke="#555" stroke-width="1.0"/>
<line x1="700" y1="677.48" x2="703.4" y2="670.34" stroke="#555" stroke-width="1.0"/>
<line x1="708" y1="681.95" x2="711.4" y2="674.77" stroke="#555" stroke-width="1.0"/>
<line x1="716" y1="686.42" x2="719.4" y2="679.21" stroke="#555" stroke-width="1.0"/>
<line x1="659" y1="680.05" x2="655.4" y2="687.18" stroke="#555" stroke-width="1.0"/>
<line x1="666" y1="683.82" x2="662.4" y2="691.06" stroke="#555" stroke-width="1.0"/>
<line x1="676" y1="689.22" x2="672.4" y2="696.6" stroke="#555" stroke-width="1.0"/>
<line x1="684" y1="693.54" x2="680.4" y2="701.04" stroke="#555" stroke-width="1.0"/>
<path d="M726.8,684.5 L761,702.9 L742.1,735.6 L703.3,713.1 Z" stroke="#505050" stroke-width="1.3" fill="#fff"/>
<line x1="735.35" y1="689.1" x2="713" y2="718.73" stroke="#666" stroke-width="0.9"/>
<line x1="743.9" y1="693.7" x2="722.7" y2="724.35" stroke="#666" stroke-width="0.9"/>
<line x1="752.45" y1="698.3" x2="732.4" y2="729.98" stroke="#666" stroke-width="0.9"/>
<ellipse cx="722" cy="702" rx="3.2" ry="2" transform="rotate(-30 722 702)" fill="none" stroke="#666" stroke-width="0.9"/>
<ellipse cx="747" cy="706" rx="3.2" ry="2" transform="rotate(-30 747 706)" fill="none" stroke="#666" stroke-width="0.9"/>
<ellipse cx="733" cy="716" rx="3.2" ry="2" transform="rotate(-30 733 716)" fill="none" stroke="#666" stroke-width="0.9"/>
</svg></body></html>
